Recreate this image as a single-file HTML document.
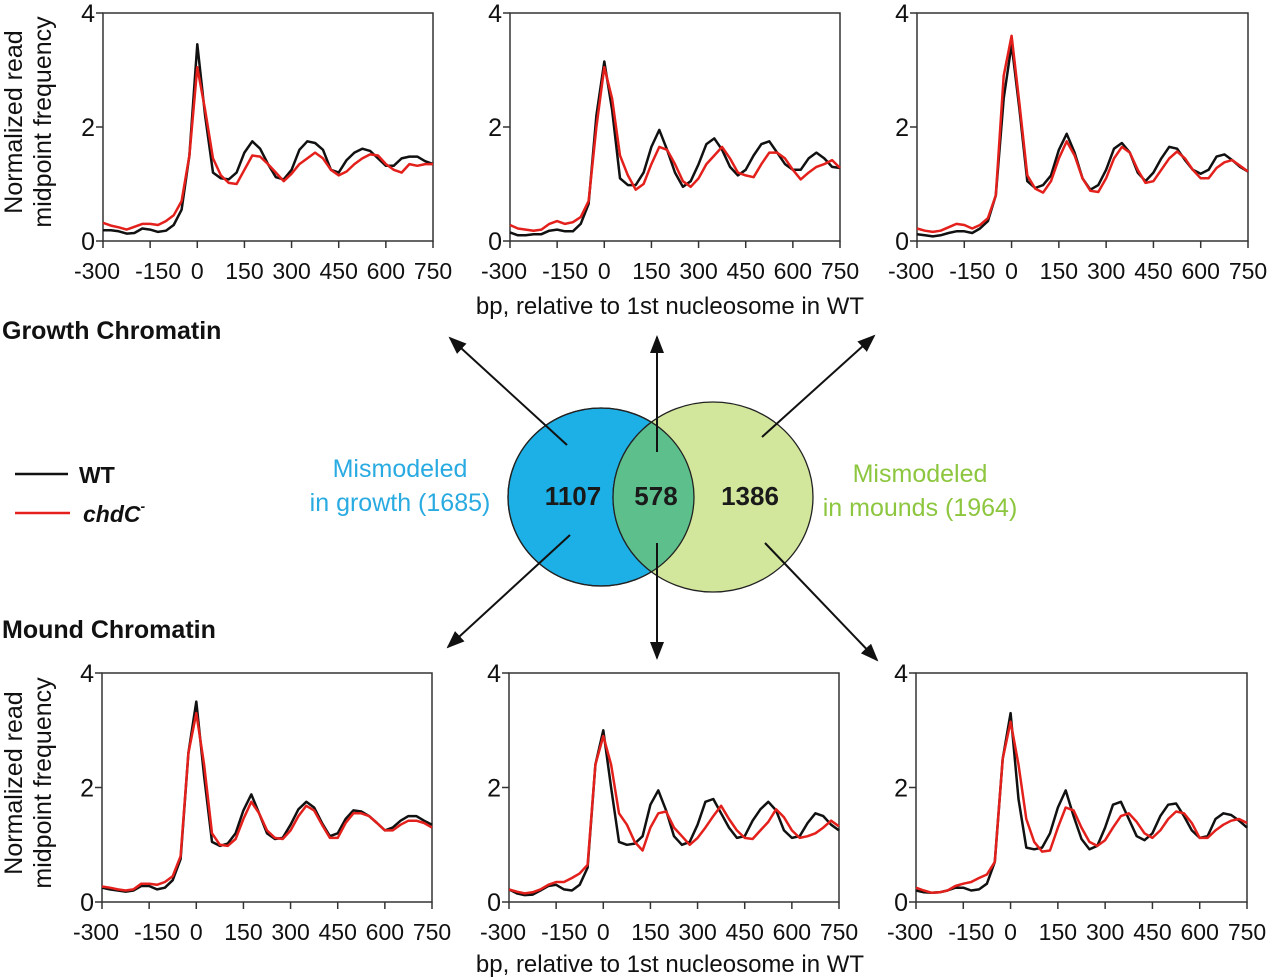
<!DOCTYPE html>
<html><head><meta charset="utf-8"><style>
body{margin:0;background:#fff;}
svg{display:block;font-family:"Liberation Sans",Arial,sans-serif;}
</style></head><body>
<svg id="fig" width="1280" height="978" viewBox="0 0 1280 978" xmlns="http://www.w3.org/2000/svg">
<defs><marker id="ah" markerWidth="18" markerHeight="14" refX="16" refY="7" orient="auto" markerUnits="userSpaceOnUse"><path d="M0,0 L18,7 L0,14 Z" fill="#111"/></marker></defs>
<g id="panels"></g>
<g>
<ellipse cx="601" cy="497" rx="93" ry="89" fill="#1cb0e6" stroke="#222" stroke-width="1.3"/>
<ellipse cx="713" cy="497" rx="100" ry="95" fill="#d3e79c" stroke="#222" stroke-width="1.3"/>
<clipPath id="cl"><ellipse cx="601" cy="497" rx="93" ry="89"/></clipPath>
<ellipse cx="713" cy="497" rx="100" ry="95" fill="#5dbf8c" stroke="#222" stroke-width="1.3" clip-path="url(#cl)"/>
<ellipse cx="601" cy="497" rx="93" ry="89" fill="none" stroke="#222" stroke-width="1.3"/>
<text x="573" y="505" font-size="26" font-weight="bold" text-anchor="middle" fill="#1a1a1a">1107</text>
<text x="656" y="505" font-size="26" font-weight="bold" text-anchor="middle" fill="#1a1a1a">578</text>
<text x="750" y="505" font-size="26" font-weight="bold" text-anchor="middle" fill="#1a1a1a">1386</text>
</g>
<g stroke="#111" stroke-width="2">
<line x1="567" y1="445" x2="450" y2="338" marker-end="url(#ah)"/>
<line x1="657" y1="452" x2="657" y2="337" marker-end="url(#ah)"/>
<line x1="762" y1="437" x2="874" y2="336" marker-end="url(#ah)"/>
<line x1="570" y1="535" x2="448" y2="647" marker-end="url(#ah)"/>
<line x1="657" y1="543" x2="657" y2="658" marker-end="url(#ah)"/>
<line x1="765" y1="543" x2="877" y2="660" marker-end="url(#ah)"/>
</g>
<g fill="#29abe2" font-size="25" text-anchor="middle">
<text x="400" y="477">Mismodeled</text><text x="400" y="511">in growth (1685)</text></g>
<g fill="#8dc63f" font-size="25" text-anchor="middle">
<text x="920" y="482">Mismodeled</text><text x="920" y="516">in mounds (1964)</text></g>
<text x="2" y="339" font-size="25" font-weight="bold" fill="#111">Growth Chromatin</text>
<text x="2" y="638" font-size="25" font-weight="bold" fill="#111">Mound Chromatin</text>
<g>
<line x1="15" y1="474" x2="68" y2="474" stroke="#111" stroke-width="2.5"/>
<text x="79" y="483" font-size="23" font-weight="bold" fill="#111">WT</text>
<line x1="15" y1="513" x2="70" y2="513" stroke="#e3201b" stroke-width="2.5"/>
<text x="83" y="522" font-size="23" font-weight="bold" font-style="italic" fill="#111">chdC<tspan font-size="14" dy="-11">-</tspan></text>
</g>
<text x="670" y="314" font-size="24" text-anchor="middle" fill="#111">bp, relative to 1st nucleosome in WT</text>
<text x="670" y="972" font-size="24" text-anchor="middle" fill="#111">bp, relative to 1st nucleosome in WT</text>
<g font-size="25" text-anchor="middle" fill="#111">
<text transform="translate(22,122) rotate(-90)">Normalized read</text>
<text transform="translate(51,122) rotate(-90)">midpoint frequency</text></g>
<g font-size="25" text-anchor="middle" fill="#111">
<text transform="translate(22,783) rotate(-90)">Normalized read</text>
<text transform="translate(51,783) rotate(-90)">midpoint frequency</text></g>
</svg>
<script>
const xPositions = [-300,-275,-250,-225,-200,-175,-150,-125,-100,-75,-50,-25,0,25,50,75,100,125,150,175,200,225,250,275,300,325,350,375,400,425,450,475,500,525,550,575,600,625,650,675,700,725,750];
const xTicks = [-300,-150,0,150,300,450,600,750];
const yTicks = [0,2,4];
const tlWT  = [.19,.19,.17,.13,.14,.22,.2,.16,.18,.28,.55,1.5,3.45,2.2,1.2,1.1,1.08,1.2,1.55,1.75,1.62,1.35,1.12,1.08,1.25,1.6,1.75,1.72,1.6,1.25,1.2,1.42,1.55,1.62,1.58,1.45,1.32,1.32,1.45,1.48,1.48,1.4,1.35];
const tlChd = [.32,.27,.24,.2,.25,.3,.3,.28,.35,.45,.7,1.5,3.05,2.3,1.45,1.15,1.02,1.0,1.25,1.5,1.48,1.35,1.2,1.05,1.18,1.35,1.45,1.55,1.45,1.25,1.15,1.22,1.35,1.45,1.52,1.5,1.35,1.25,1.2,1.35,1.32,1.35,1.35];
const tmWT  = [.15,.1,.1,.12,.12,.18,.2,.17,.17,.3,.65,2.2,3.15,2.3,1.1,.98,.98,1.2,1.65,1.95,1.6,1.2,.95,1.05,1.35,1.7,1.8,1.6,1.3,1.15,1.25,1.5,1.7,1.75,1.55,1.35,1.25,1.25,1.45,1.55,1.45,1.3,1.28];
const tmChd = [.28,.22,.2,.18,.2,.3,.35,.3,.33,.42,.7,2.0,3.05,2.5,1.5,1.15,.9,1.0,1.35,1.65,1.6,1.35,1.05,.95,1.1,1.35,1.5,1.65,1.45,1.2,1.15,1.12,1.35,1.55,1.55,1.45,1.25,1.08,1.2,1.3,1.35,1.42,1.28];
const trWT  = [.12,.1,.08,.1,.14,.17,.17,.14,.22,.35,.8,2.5,3.45,2.3,1.05,.93,.98,1.15,1.6,1.88,1.55,1.1,.9,.98,1.25,1.62,1.72,1.55,1.2,1.05,1.2,1.45,1.65,1.62,1.42,1.25,1.18,1.25,1.48,1.52,1.42,1.3,1.22];
const trChd = [.22,.18,.16,.18,.24,.3,.28,.22,.28,.4,.8,2.9,3.6,2.4,1.15,.92,.85,1.05,1.45,1.75,1.5,1.1,.88,.86,1.1,1.45,1.65,1.55,1.25,1.02,1.05,1.25,1.45,1.57,1.45,1.25,1.1,1.1,1.28,1.38,1.42,1.32,1.22];
const blWT  = [.25,.22,.2,.18,.2,.28,.28,.22,.25,.38,.75,2.6,3.5,2.2,1.05,.98,1.02,1.2,1.6,1.88,1.55,1.2,1.1,1.12,1.35,1.62,1.75,1.65,1.38,1.15,1.2,1.45,1.6,1.58,1.5,1.38,1.25,1.3,1.42,1.5,1.5,1.42,1.35];
const blChd = [.27,.25,.22,.2,.22,.32,.32,.3,.35,.45,.8,2.6,3.3,2.4,1.2,1.0,.98,1.1,1.45,1.75,1.55,1.25,1.12,1.1,1.25,1.5,1.68,1.6,1.35,1.12,1.12,1.38,1.55,1.55,1.5,1.38,1.25,1.25,1.35,1.42,1.42,1.38,1.3];
const bmWT  = [.22,.15,.12,.13,.2,.28,.3,.22,.2,.3,.6,2.4,3.0,2.0,1.05,1.0,1.02,1.15,1.7,1.95,1.6,1.15,1.0,1.05,1.35,1.75,1.8,1.55,1.3,1.12,1.15,1.42,1.62,1.75,1.6,1.25,1.12,1.15,1.38,1.55,1.5,1.35,1.25];
const bmChd = [.22,.18,.15,.17,.22,.3,.35,.35,.42,.5,.65,2.4,2.9,2.4,1.55,1.35,1.05,.9,1.3,1.55,1.58,1.3,1.15,1.0,1.12,1.3,1.5,1.68,1.45,1.25,1.12,1.1,1.25,1.4,1.62,1.48,1.25,1.12,1.15,1.2,1.3,1.42,1.32];
const brWT  = [.2,.17,.16,.17,.2,.25,.25,.2,.22,.32,.7,2.5,3.3,1.8,.95,.92,.95,1.2,1.65,1.95,1.5,1.1,.92,.98,1.3,1.7,1.75,1.45,1.15,1.08,1.2,1.5,1.7,1.72,1.5,1.25,1.12,1.15,1.45,1.55,1.52,1.42,1.3];
const brChd = [.25,.2,.16,.17,.2,.28,.32,.35,.42,.48,.7,2.5,3.15,2.4,1.45,1.05,.88,.9,1.3,1.65,1.6,1.3,1.05,.98,1.08,1.3,1.5,1.55,1.4,1.2,1.12,1.25,1.45,1.58,1.55,1.38,1.12,1.12,1.25,1.35,1.42,1.45,1.38];

const layout = [
 {id:'top-left', L:103,R:433,T:13,B:241, wt:tlWT, chd:tlChd},
 {id:'top-middle', L:510,R:840,T:13,B:241, wt:tmWT, chd:tmChd},
 {id:'top-right', L:917,R:1248,T:13,B:241, wt:trWT, chd:trChd},
 {id:'bottom-left', L:102,R:432,T:673,B:902, wt:blWT, chd:blChd},
 {id:'bottom-middle', L:509,R:839,T:673,B:902, wt:bmWT, chd:bmChd},
 {id:'bottom-right', L:916,R:1247,T:673,B:902, wt:brWT, chd:brChd}
];
const NS='http://www.w3.org/2000/svg';
const root=document.getElementById('panels');
function mk(tag,attrs,parent){const e=document.createElementNS(NS,tag);for(const k in attrs)e.setAttribute(k,attrs[k]);parent.appendChild(e);return e;}
layout.forEach(p=>{
  const g=mk('g',{},root);
  
  
  const xs=v=>p.L+(v+300)/1050*(p.R-p.L);
  const ys=v=>p.B-v/4*(p.B-p.T);
  const box=mk('rect',{x:p.L,y:p.T,width:p.R-p.L,height:p.B-p.T,fill:'none',stroke:'#333','stroke-width':1.5},g);
  
  
  xTicks.forEach(t=>{
    mk('line',{x1:xs(t),x2:xs(t),y1:p.B,y2:p.B+7,stroke:'#333','stroke-width':1.5},g);
    const off = t===-300 ? -6 : (t===-150 ? 8 : 0);
    const tx=mk('text',{x:xs(t)+off,y:p.B+38,'font-size':23,'text-anchor':'middle',fill:'#111'},g);
    
    
    tx.textContent=t;
  });
  yTicks.forEach(t=>{
    mk('line',{x1:p.L-7,x2:p.L,y1:ys(t),y2:ys(t),stroke:'#333','stroke-width':1.5},g);
    const ty=mk('text',{x:p.L-8,y:ys(t)+9,'font-size':25,'text-anchor':'end',fill:'#111'},g);
    
    
    ty.textContent=t;
  });
  [['wt',p.wt,'#111'],['chdc',p.chd,'#e3201b']].forEach(s=>{
    const d=s[1].map((v,i)=>(i?'L':'M')+xs(xPositions[i]).toFixed(1)+','+ys(v).toFixed(1)).join(' ');
    const path=mk('path',{d:d,fill:'none',stroke:s[2],'stroke-width':2.5,'stroke-linejoin':'round'},g);
    
    
  });
});
</script>
</body></html>
